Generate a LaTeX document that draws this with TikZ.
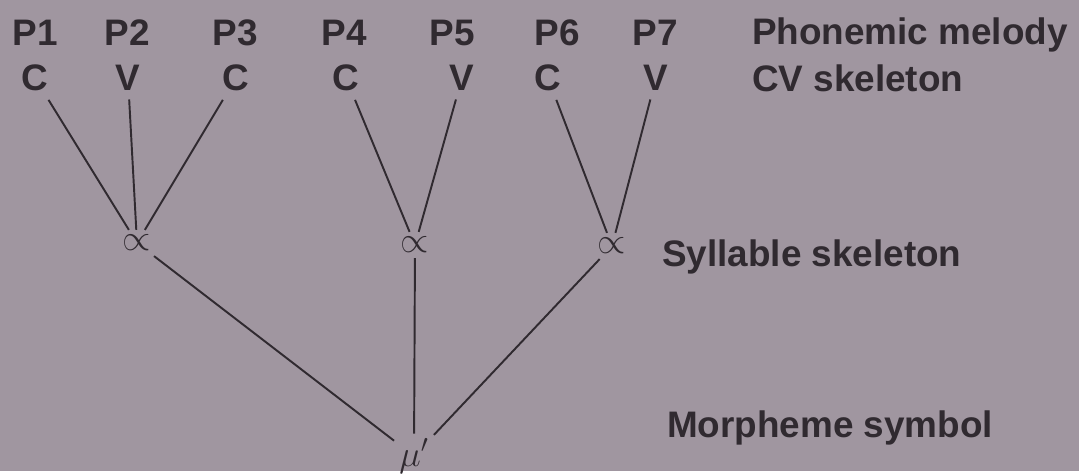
\documentclass[tikz,border=0pt]{standalone}
\usepackage{fontspec}
\setmainfont{Liberation Sans}
\usetikzlibrary{positioning}
\definecolor{paper}{RGB}{160,150,160}
\definecolor{ink}{RGB}{48,42,48}

\begin{document}
\begin{tikzpicture}[x=0.02cm, y=-0.02cm,
    lbl/.style={font=\fontsize{21}{24}\selectfont\bfseries, text=ink, inner sep=1pt},
    seg/.style={lbl, outer sep=4pt},
    sym/.style={font=\fontsize{21}{24}\selectfont, text=ink, inner sep=1pt, outer sep=2pt},
    tier/.style={lbl, anchor=west},
    branch/.style={draw=ink, line width=1.1pt}]
    \fill[paper] (0,0) rectangle (1079,471);

    % phonemic melody
    \node[lbl] (p1) at (35,33) {P1};
    \node[lbl] (p2) at (127,33) {P2};
    \node[lbl] (p3) at (235,33) {P3};
    \node[lbl] (p4) at (344,33) {P4};
    \node[lbl] (p5) at (452,33) {P5};
    \node[lbl] (p6) at (557,33) {P6};
    \node[lbl] (p7) at (655,33) {P7};

    % CV skeleton
    \node[seg] (c1) at (35,78) {C};
    \node[seg] (v2) at (128,78) {V};
    \node[seg] (c3) at (236,78) {C};
    \node[seg] (c4) at (346,78) {C};
    \node[seg] (v5) at (462,78) {V};
    \node[seg] (c6) at (548,78) {C};
    \node[seg] (v7) at (656,78) {V};

    % syllables and morpheme
    \node[sym] (s1) at (137,243) {$\propto$};
    \node[sym] (s2) at (415,245) {$\propto$};
    \node[sym] (s3) at (612,246) {$\propto$};
    \node[sym] (mu) at (414,456) {$\mu'$};

    % tier names
    \node[tier] (melody) at (750,35) {Phonemic melody};
    \node[tier] (cv) at (750,78) {CV skeleton};
    \node[tier] (syl) at (660,257) {Syllable skeleton};
    \node[tier] (morph) at (665,428) {Morpheme symbol};

    \draw[branch] (c1) -- (s1);
    \draw[branch] (v2) -- (s1);
    \draw[branch] (c3) -- (s1);
    \draw[branch] (c4) -- (s2);
    \draw[branch] (v5) -- (s2);
    \draw[branch] (c6) -- (s3);
    \draw[branch] (v7) -- (s3);
    \draw[branch] (s1) -- (mu);
    \draw[branch] (s2) -- (mu);
    \draw[branch] (s3) -- (mu);
\end{tikzpicture}
\end{document}
